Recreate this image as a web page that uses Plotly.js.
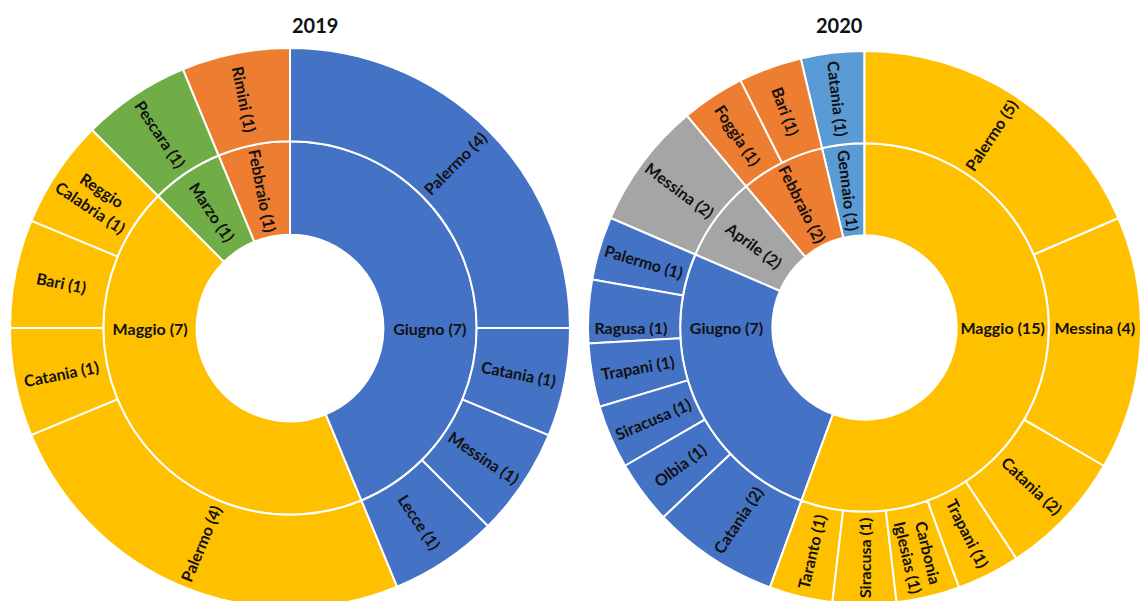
<!DOCTYPE html>
<html>
<head>
<meta charset="utf-8">
<script src="https://cdn.plot.ly/plotly-3.0.1.min.js"></script>
<style>
  html, body { margin: 0; padding: 0; background: #fff; overflow: hidden; }
  #chart { width: 1141px; height: 620px; }
</style>
</head>
<body>
<div id="chart"></div>
<script>
// ---------- DATA (clockwise order from 12 o'clock, as in the picture) ----------
const titles = ['2019', '2020'];

const months2019 = ['Giugno', 'Maggio', 'Marzo', 'Febbraio'];
const monthValues2019 = [7, 7, 1, 1];
const cityNames2019 = ['Palermo', 'Catania', 'Messina', 'Lecce',
                       'Palermo', 'Catania', 'Bari', 'Reggio<br>Calabria',
                       'Pescara', 'Rimini'];
const cityMonths2019 = ['Giugno', 'Giugno', 'Giugno', 'Giugno',
                        'Maggio', 'Maggio', 'Maggio', 'Maggio',
                        'Marzo', 'Febbraio'];
const cityValues2019 = [4, 1, 1, 1, 4, 1, 1, 1, 1, 1];

const months2020 = ['Maggio', 'Giugno', 'Aprile', 'Febbraio', 'Gennaio'];
const monthValues2020 = [15, 7, 2, 2, 1];
const cityNames2020 = ['Palermo', 'Messina', 'Catania', 'Trapani', 'Carbonia<br>Iglesias', 'Siracusa', 'Taranto',
                       'Catania', 'Olbia', 'Siracusa', 'Trapani', 'Ragusa', 'Palermo',
                       'Messina',
                       'Foggia', 'Bari',
                       'Catania'];
const cityMonths2020 = ['Maggio', 'Maggio', 'Maggio', 'Maggio', 'Maggio', 'Maggio', 'Maggio',
                        'Giugno', 'Giugno', 'Giugno', 'Giugno', 'Giugno', 'Giugno',
                        'Aprile',
                        'Febbraio', 'Febbraio',
                        'Gennaio'];
const cityValues2020 = [5, 4, 2, 1, 1, 1, 1,
                        2, 1, 1, 1, 1, 1,
                        2,
                        1, 1,
                        1];

// ---------- STYLE ----------
const monthColors = {
  'Gennaio': '#5B9BD5',
  'Febbraio': '#ED7D31',
  'Marzo': '#70AD47',
  'Aprile': '#A5A5A5',
  'Maggio': '#FFC000',
  'Giugno': '#4472C4'
};

function buildNodes(months, monthValues, cityNames, cityMonths, cityValues) {
  let nodes = [];
  months.forEach((m, i) => {
    nodes.push({id: m, label: m + ' (' + monthValues[i] + ')', parent: 'root', value: monthValues[i], color: monthColors[m]});
    cityNames.forEach((c, j) => {
      if (cityMonths[j] === m) {
        nodes.push({id: m + '/' + j, label: c + ' (' + cityValues[j] + ')', parent: m, value: cityValues[j], color: monthColors[m]});
      }
    });
  });
  // plotly lays sunburst slices counter-clockwise: reverse sibling order
  nodes.reverse();
  // blank centre (the hole)
  const total = monthValues.reduce((a, b) => a + b, 0);
  nodes.unshift({id: 'root', label: ' ', parent: '', value: total, color: '#ffffff'});
  return nodes;
}

function makeTrace(nodes, domain) {
  return {
    type: 'sunburst',
    ids: nodes.map(n => n.id),
    labels: nodes.map(n => n.label),
    parents: nodes.map(n => n.parent),
    values: nodes.map(n => n.value),
    branchvalues: 'total',
    sort: false,
    rotation: 90,
    textinfo: 'label',
    insidetextorientation: 'radial',
    insidetextfont: {family: 'Lato, "Open Sans", sans-serif', size: 16, color: '#111111', weight: 'bold'},
    marker: {colors: nodes.map(n => n.color), line: {color: '#ffffff', width: 2}},
    leaf: {opacity: 1},
    hoverinfo: 'skip',
    domain: domain
  };
}

const W = 1141, H = 620;
const n2019 = buildNodes(months2019, monthValues2019, cityNames2019, cityMonths2019, cityValues2019);
const n2020 = buildNodes(months2020, monthValues2020, cityNames2020, cityMonths2020, cityValues2020);

const data = [
  makeTrace(n2019, {x: [10 / W, 570 / W], y: [(H - 608) / H, (H - 48) / H]}),
  makeTrace(n2020, {x: [588 / W, 1141 / W], y: [(H - 604) / H, (H - 51) / H]})
];

const titleFont = {family: 'Lato, "Open Sans", sans-serif', size: 20, color: '#111111', weight: 'bold'};
const layout = {
  width: W, height: H,
  margin: {l: 0, r: 0, t: 0, b: 0},
  paper_bgcolor: '#ffffff',
  showlegend: false,
  annotations: [
    {text: titles[0], x: 290 / W, y: (H - 25) / H, xref: 'paper', yref: 'paper', yanchor: 'middle', showarrow: false, font: titleFont},
    {text: titles[1], x: 865 / W, y: (H - 25) / H, xref: 'paper', yref: 'paper', yanchor: 'middle', showarrow: false, font: titleFont}
  ]
};

Plotly.newPlot('chart', data, layout, {staticPlot: true, displayModeBar: false});
</script>
</body>
</html>
